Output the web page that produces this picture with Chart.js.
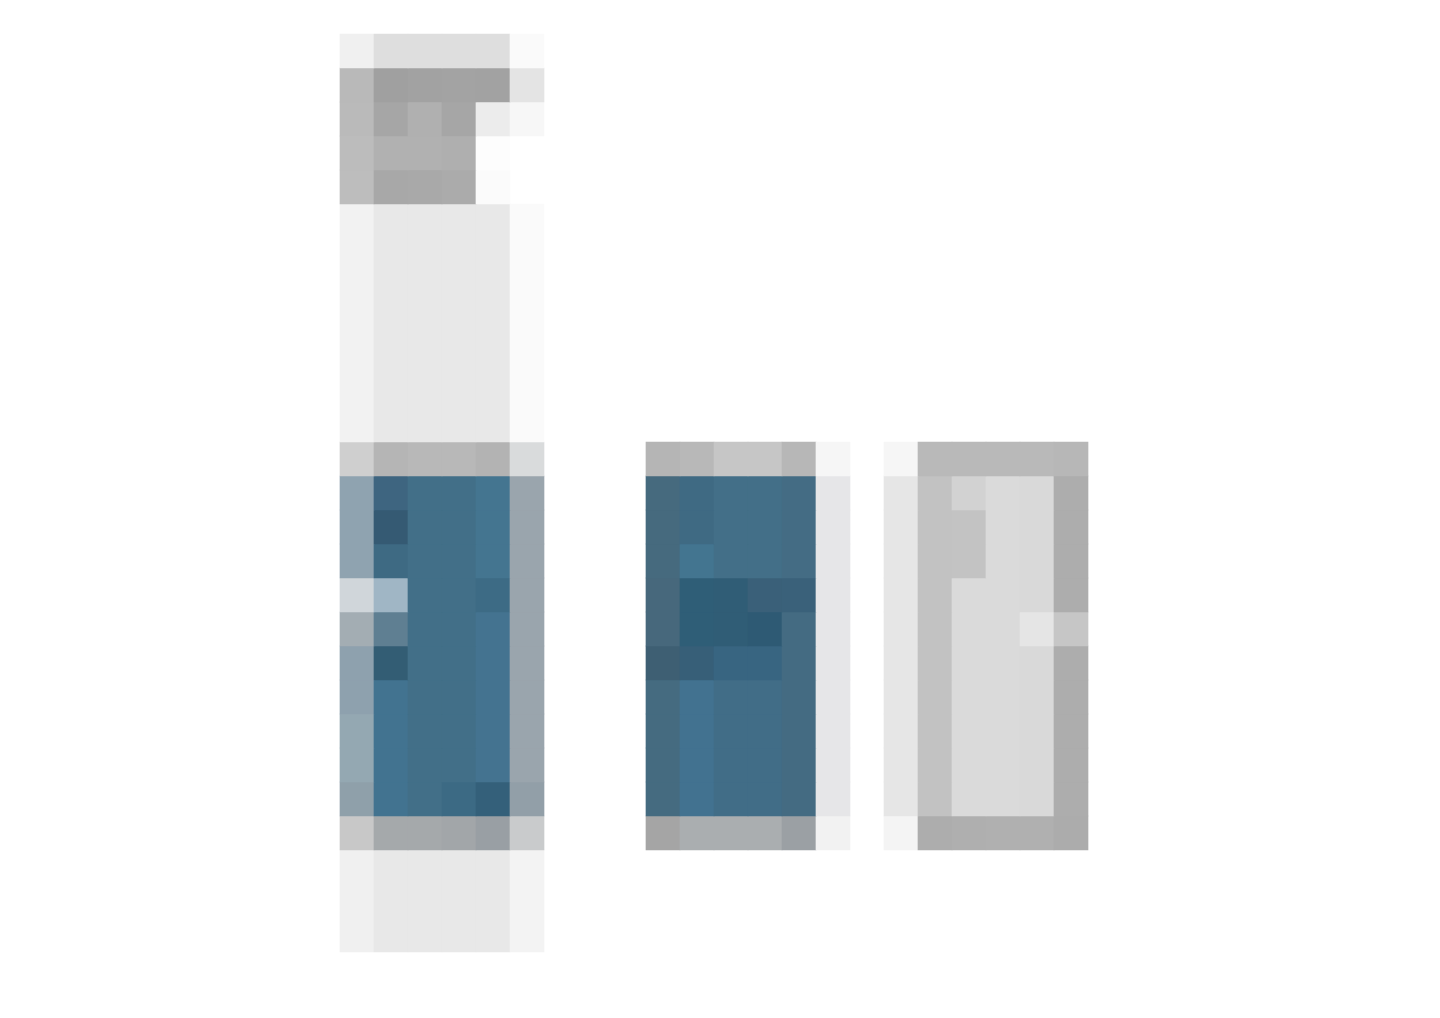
<!DOCTYPE html>
<html lang="en">
<head>
  <meta charset="UTF-8">
  <title>Thumbnail bars</title>
  <script src="https://cdn.jsdelivr.net/npm/chart.js"></script>
  <style>
    body {
      margin: 0;
      padding: 0;
      background: #ffffff;
      overflow: hidden;
    }
    #chartContainer {
      width: 1428px;
      height: 1018px;
    }
    canvas {
      display: block;
    }
  </style>
</head>
<body>
  <div id="chartContainer">
    <canvas id="myChart" width="1428" height="1018"></canvas>
  </div>

  <script>
    // one category per column of the picture (42 columns)
    const columnLabels = ['c0', 'c1', 'c2', 'c3', 'c4', 'c5', 'c6', 'c7', 'c8', 'c9',
      'c10', 'c11', 'c12', 'c13', 'c14', 'c15', 'c16', 'c17', 'c18', 'c19',
      'c20', 'c21', 'c22', 'c23', 'c24', 'c25', 'c26', 'c27', 'c28', 'c29',
      'c30', 'c31', 'c32', 'c33', 'c34', 'c35', 'c36', 'c37', 'c38', 'c39',
      'c40', 'c41'];
    const firstColumn = 10;

    // floating ranges (top row, bottom row) of each horizontal band
    const bandRows = [
      [1, 2], [2, 3], [3, 4], [4, 5], [5, 6], [6, 13], [13, 14],
      [14, 15], [15, 16], [16, 17], [17, 18], [18, 19], [19, 20],
      [20, 21], [21, 22], [22, 23], [23, 24], [24, 25], [25, 28]
    ];

    // colour of each band, column 10 onwards (null = nothing drawn)
    const _ = null;
    const bandColours = [
      ['#f0f0f0', '#dedede', '#dedede', '#dedede', '#dedede', '#fafafa'],
      ['#b9b9b9', '#a0a0a0', '#a2a2a2', '#a3a3a3', '#a2a2a2', '#e4e4e4'],
      ['#bababa', '#a6a6a6', '#b0b0b0', '#a6a6a6', '#ececec', '#f7f7f7'],
      ['#bcbcbc', '#b1b1b1', '#b1b1b1', '#afafaf', '#fdfdfd'],
      ['#bdbdbd', '#a8a8a8', '#a9a9a9', '#ababab', '#fbfbfb'],
      ['#f2f2f2', '#e8e8e8', '#e8e8e8', '#e8e8e8', '#e8e8e8', '#fafafa'],
      ['#cfcfcf', '#b5b5b5', '#b8b8b8', '#b8b8b8', '#b3b3b3', '#d9dbdc', _, _, _,
       '#b5b5b5', '#b8b8b8', '#c6c6c6', '#c6c6c6', '#b7b7b7', '#f6f6f6', _,
       '#f6f6f6', '#b9b9b9', '#b9b9b9', '#b9b9b9', '#b9b9b9', '#b7b7b7'],
      ['#8fa3b0', '#3e6580', '#426f88', '#426f88', '#447590', '#9aa5ad', _, _, _,
       '#466a7e', '#3f6a83', '#436f88', '#436f88', '#446c84', '#e6e6e8', _,
       '#e6e6e6', '#c2c2c2', '#d2d2d2', '#dadada', '#d9d9d9', '#adadad'],
      ['#8fa3b0', '#355a73', '#426f88', '#426f88', '#447590', '#9aa5ad', _, _, _,
       '#466a7e', '#3f6a83', '#436f88', '#436f88', '#446c84', '#e6e6e8', _,
       '#e6e6e6', '#c2c2c2', '#c3c3c3', '#dadada', '#d9d9d9', '#adadad'],
      ['#8fa3b0', '#3e6a83', '#426f88', '#426f88', '#447590', '#9aa5ad', _, _, _,
       '#466a7e', '#437590', '#436f88', '#436f88', '#446c84', '#e6e6e8', _,
       '#e6e6e6', '#c2c2c2', '#c3c3c3', '#dadada', '#d9d9d9', '#adadad'],
      ['#d0d6da', '#a0b6c5', '#426f88', '#426f88', '#3d6b85', '#9aa5ad', _, _, _,
       '#47687c', '#2f5e77', '#305d76', '#3a6079', '#3a617a', '#e6e6e8', _,
       '#e6e6e6', '#c2c2c2', '#dadada', '#dadada', '#d9d9d9', '#adadad'],
      ['#a3adb3', '#5f7f92', '#426f88', '#426f88', '#447390', '#9aa5ad', _, _, _,
       '#47687c', '#2f5e77', '#305d76', '#2e5a74', '#446b82', '#e6e6e8', _,
       '#e6e6e6', '#c2c2c2', '#dadada', '#dadada', '#e5e5e5', '#c6c6c6'],
      ['#8ea1ae', '#335d74', '#426f88', '#426f88', '#447390', '#9aa5ad', _, _, _,
       '#3e5f73', '#375f78', '#386581', '#386581', '#446b82', '#e6e6e8', _,
       '#e6e6e6', '#c2c2c2', '#dadada', '#dadada', '#d9d9d9', '#adadad'],
      ['#8ea1ae', '#427390', '#426f88', '#426f88', '#447390', '#9aa5ad', _, _, _,
       '#456b80', '#427290', '#416d87', '#416d87', '#446b82', '#e6e6e8', _,
       '#e6e6e6', '#c2c2c2', '#dadada', '#dadada', '#d9d9d9', '#adadad'],
      ['#94a8b2', '#427390', '#426f88', '#426f88', '#447390', '#9aa5ad', _, _, _,
       '#456b80', '#427290', '#416d87', '#416d87', '#446b82', '#e6e6e8', _,
       '#e6e6e6', '#c2c2c2', '#dadada', '#dadada', '#d9d9d9', '#adadad'],
      ['#94a8b2', '#427390', '#426f88', '#426f88', '#447390', '#9aa5ad', _, _, _,
       '#456b80', '#427290', '#416d87', '#416d87', '#446b82', '#e6e6e8', _,
       '#e6e6e6', '#c2c2c2', '#dadada', '#dadada', '#d9d9d9', '#adadad'],
      ['#8fa0aa', '#427390', '#426f88', '#3c6a84', '#34607a', '#929fa8', _, _, _,
       '#456b80', '#427290', '#416d87', '#416d87', '#446b82', '#e6e6e8', _,
       '#e6e6e6', '#c2c2c2', '#dadada', '#dadada', '#d9d9d9', '#adadad'],
      ['#c8c8c8', '#a5a9ab', '#a5a9ab', '#a2a6a9', '#999fa4', '#c9cbcc', _, _, _,
       '#a5a5a5', '#aaaeb0', '#aaaeb0', '#aaaeb0', '#9ba0a4', '#f2f2f2', _,
       '#f4f4f4', '#adadad', '#afafaf', '#b0b0b0', '#b0b0b0', '#acacac'],
      ['#f0f0f0', '#e8e8e8', '#e8e8e8', '#e8e8e8', '#e8e8e8', '#f3f3f3']
    ];

    function colourAt(band, col) {
      const c = bandColours[band][col - firstColumn];
      return c ? c : null;
    }

    const datasets = bandRows.map((rows, b) => ({
      label: 'band ' + b,
      data: columnLabels.map((_l, col) => colourAt(b, col) ? rows : null),
      backgroundColor: columnLabels.map((_l, col) => colourAt(b, col) || 'rgba(0,0,0,0)'),
      borderWidth: 0,
      barPercentage: 1,
      categoryPercentage: 1
    }));

    const ctx = document.getElementById('myChart').getContext('2d');
    new Chart(ctx, {
      type: 'bar',
      data: { labels: columnLabels, datasets: datasets },
      options: {
        responsive: false,
        animation: false,
        grouped: false,
        layout: { padding: 0 },
        plugins: {
          legend: { display: false },
          tooltip: { enabled: false }
        },
        scales: {
          x: { display: false, offset: true, grid: { display: false } },
          y: { display: false, min: 0, max: 1018 / 34, reverse: true, grid: { display: false } }
        }
      }
    });
  </script>
</body>
</html>
